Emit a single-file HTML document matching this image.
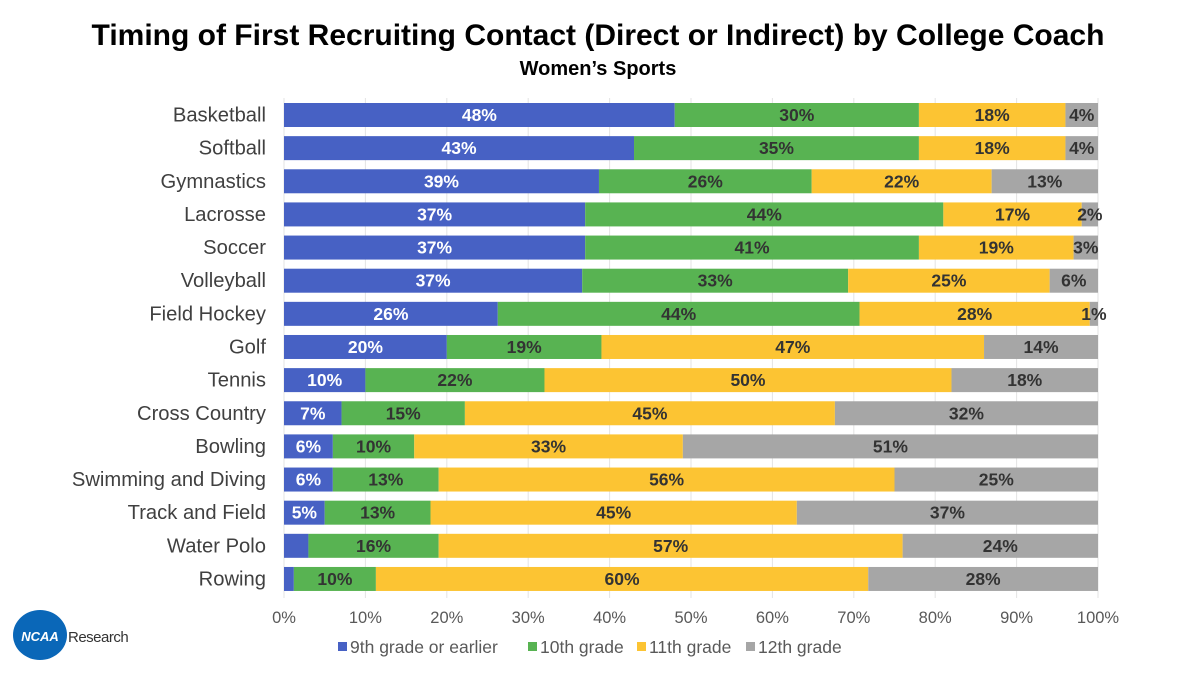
<!DOCTYPE html>
<html><head><meta charset="utf-8"><style>
body{margin:0;background:#fff;font-family:"Liberation Sans",Arial,sans-serif}
svg text{font-family:"Liberation Sans",Arial,sans-serif}
</style></head><body>
<svg id="chart" width="1199" height="669" xmlns="http://www.w3.org/2000/svg">
<text x="598" y="45" text-anchor="middle" font-size="30" font-weight="bold" fill="#000">Timing of First Recruiting Contact (Direct or Indirect) by College Coach</text>
<text x="598" y="75" text-anchor="middle" font-size="20" font-weight="bold" fill="#000">Women’s Sports</text>
<g id="grid"></g><g id="bars"></g><g id="ylabels"></g><g id="xticks"></g>
<g>
<rect x="338" y="642" width="9" height="9" fill="#4761c4"/><text x="350" y="653" font-size="17.5" fill="#595959">9th grade or earlier</text>
<rect x="528" y="642" width="9" height="9" fill="#58b352"/><text x="540" y="653" font-size="17.5" fill="#595959">10th grade</text>
<rect x="637" y="642" width="9" height="9" fill="#fcc433"/><text x="649" y="653" font-size="17.5" fill="#595959">11th grade</text>
<rect x="746" y="642" width="9" height="9" fill="#a6a6a6"/><text x="758" y="653" font-size="17.5" fill="#595959">12th grade</text>
</g>
<g>
<ellipse cx="40" cy="635" rx="27" ry="25" fill="#0a67b8"/>
<text x="40" y="641" text-anchor="middle" font-size="13" font-weight="bold" font-style="italic" fill="#fff">NCAA</text>
<text x="68" y="642" font-size="15" fill="#333" letter-spacing="-0.5">Research</text>
</g>
</svg>
<script>
const categories=["Basketball","Softball","Gymnastics","Lacrosse","Soccer","Volleyball","Field Hockey","Golf","Tennis","Cross Country","Bowling","Swimming and Diving","Track and Field","Water Polo","Rowing"];
const grade9=[48,43,38.5,37,37,37,26,20,10,7,6,6,5,3,1.2];
const grade10=[30,35,26,44,41,33,44,19,22,15,10,13,13,16,10];
const grade11=[18,18,22,17,19,25,28,47,50,45,33,56,45,57,60];
const grade12=[4,4,13,2,3,6,1,14,18,32,51,25,37,24,28];
const show9=[1,1,1,1,1,1,1,1,1,1,1,1,1,0,0];
const ticks=[0,10,20,30,40,50,60,70,80,90,100];
const x0=284,x1=1098,yTop=115,step=33.14,bh=24;
const xs=v=>x0+(x1-x0)*v/100;
const ys=i=>yTop+i*step;
const NS="http://www.w3.org/2000/svg";
function mk(t,a,p){const e=document.createElementNS(NS,t);for(const k in a)e.setAttribute(k,a[k]);p.appendChild(e);return e;}
const grid=document.getElementById('grid'),bars=document.getElementById('bars'),yl=document.getElementById('ylabels'),xt=document.getElementById('xticks');
ticks.forEach(t=>{
 const l=mk('line',{x1:xs(t),x2:xs(t),y1:98,y2:598,stroke:'#e3e3e3','stroke-width':1},grid);
 
 
 const tx=mk('text',{x:xs(t),y:623,'text-anchor':'middle','font-size':16.5,fill:'#595959'},xt);
 tx.textContent=t+'%';
 
 
});
const series=[[grade9,'#4761c4','#fff','9th'],[grade10,'#58b352','#333','10th'],[grade11,'#fcc433','#333','11th'],[grade12,'#a6a6a6','#333','12th']];
categories.forEach((c,i)=>{
 const y=ys(i);
 const lab=mk('text',{x:266,y:y+6.5,'text-anchor':'end','font-size':20.2,fill:'#404040'},yl);
 lab.textContent=c;
 
 
 const tot=grade9[i]+grade10[i]+grade11[i]+grade12[i];
 let acc=0;
 series.forEach((s,k)=>{
  const v=s[0][i]*100/tot;
  const r=mk('rect',{x:xs(acc),y:y-bh/2,width:xs(acc+v)-xs(acc),height:bh,fill:s[1]},bars);
  
  
  if(!(k===0&&!show9[i])){
   const t=mk('text',{x:(xs(acc)+xs(acc+v))/2,y:y+6,'text-anchor':'middle','font-size':17.5,'font-weight':'bold',fill:s[2]},bars);
   t.textContent=Math.round(s[0][i])+'%';
   
   
  }
  acc+=v;
 });
});
</script>
</body></html>
